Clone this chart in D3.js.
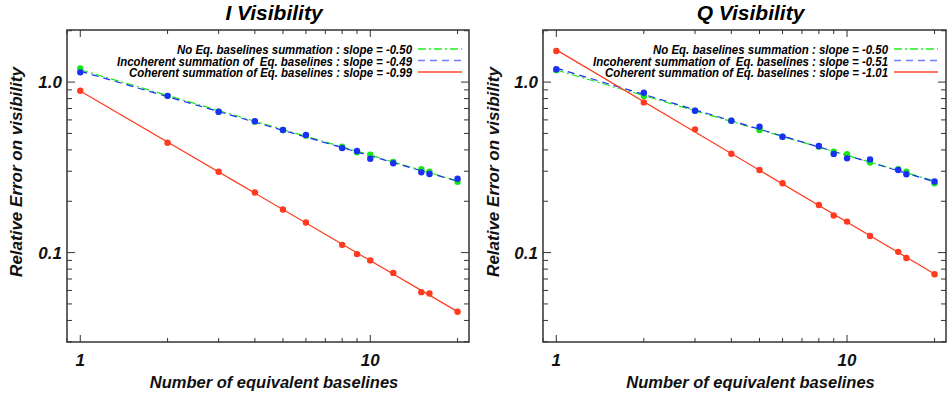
<!DOCTYPE html>
<html><head><meta charset="utf-8">
<script src="https://cdn.jsdelivr.net/npm/d3@7"></script>
<style>
html,body{margin:0;padding:0;background:#fff;}
text{font-family:"Liberation Sans",Arial,sans-serif;}
</style></head>
<body>
<svg id="chart" width="947" height="398"></svg>
<script>
// ---- data ----
const baselines = [1, 2, 3, 4, 5, 6, 8, 9, 10, 12, 15, 16, 20];

const iNoEq      = [1.20, 0.83, 0.67, 0.586, 0.523, 0.485, 0.418, 0.387, 0.375, 0.340, 0.308, 0.298, 0.260];
const iIncoherent= [1.14, 0.83, 0.67, 0.590, 0.523, 0.490, 0.410, 0.394, 0.355, 0.334, 0.296, 0.289, 0.271];
const iCoherent  = [0.889, 0.441, 0.298, 0.225, 0.179, 0.150, 0.111, 0.098, 0.090, 0.076, 0.0586, 0.0575, 0.045];

const qNoEq      = [1.175, 0.828, 0.679, 0.593, 0.523, 0.478, 0.418, 0.391, 0.377, 0.337, 0.308, 0.298, 0.255];
const qIncoherent= [1.19, 0.865, 0.679, 0.593, 0.547, 0.478, 0.422, 0.379, 0.357, 0.352, 0.305, 0.288, 0.261];
const qCoherent  = [1.52, 0.76, 0.528, 0.380, 0.305, 0.255, 0.190, 0.165, 0.152, 0.125, 0.101, 0.093, 0.0747];

const panelTitles = ["I Visibility", "Q Visibility"];
const seriesNames = ["No Eq. baselines summation", "Incoherent summation of  Eq. baselines", "Coherent summation of Eq. baselines"];
const iSlopeLabels = ["-0.50", "-0.49", "-0.99"];
const qSlopeLabels = ["-0.50", "-0.51", "-1.01"];
const yTickLabels = ["1.0", "0.1"];
const yTickValues = [1.0, 0.1];
const xTickLabels = ["1", "10"];
const xTickValues = [1, 10];
const xTitle = "Number of equivalent baselines";
const yTitle = "Relative Error on visibility";

// ---- styles ----
const colors = ["#16e616", "#1a30f5", "#ff3a1e"];
const legendColors = ["#22ee22", "#6a80ff", "#ff4a30"];
const dashes = ["8,3,2,3", "7,5", null];

const svg = d3.select("#chart");
const xDomain = [0.9, 21.9];
const yDomain = [0.0299, 2.02];

const panels = [
  {left: 67, right: 469, title: panelTitles[0], series: [iNoEq, iIncoherent, iCoherent], slopes: iSlopeLabels, ylabX: 22},
  {left: 543, right: 946, title: panelTitles[1], series: [qNoEq, qIncoherent, qCoherent], slopes: qSlopeLabels, ylabX: 499}
];
const plotTop = 30, plotBottom = 342;

function fit(xs, ys) {
  const lx = xs.map(Math.log10), ly = ys.map(Math.log10);
  const mx = d3.mean(lx), my = d3.mean(ly);
  let sxy = 0, sxx = 0;
  lx.forEach((v, i) => { sxy += (v - mx) * (ly[i] - my); sxx += (v - mx) * (v - mx); });
  const b = sxy / sxx, a = my - b * mx;
  return xv => Math.pow(10, a + b * Math.log10(xv));
}

panels.forEach(p => {
  const x = d3.scaleLog().domain(xDomain).range([p.left, p.right]);
  const y = d3.scaleLog().domain(yDomain).range([plotBottom, plotTop]);
  const g = svg.append("g");

  // title
  g.append("text").attr("x", (p.left + p.right) / 2 + 6).attr("y", 20)
    .attr("text-anchor", "middle").attr("font-size", 21).attr("font-weight", "bold")
    .attr("font-style", "italic").attr("fill", "#000").text(p.title);

  // ticks
  const xt = x.ticks().filter(v => v >= xDomain[0] && v <= xDomain[1]);
  const yt = y.ticks().filter(v => v >= yDomain[0] && v <= yDomain[1]);
  const isMajor = v => Math.abs(Math.log10(v) - Math.round(Math.log10(v))) < 1e-6;
  const tk = g.append("g").attr("stroke", "#333").attr("stroke-width", 1);
  xt.forEach(v => {
    const L = isMajor(v) ? 7 : 4;
    tk.append("line").attr("x1", x(v)).attr("x2", x(v)).attr("y1", plotBottom).attr("y2", plotBottom - L);
    tk.append("line").attr("x1", x(v)).attr("x2", x(v)).attr("y1", plotTop).attr("y2", plotTop + L);
  });
  yt.forEach(v => {
    const L = isMajor(v) ? 8 : 5;
    tk.append("line").attr("y1", y(v)).attr("y2", y(v)).attr("x1", p.left).attr("x2", p.left + L);
    tk.append("line").attr("y1", y(v)).attr("y2", y(v)).attr("x1", p.right).attr("x2", p.right - L);
  });

  // frame
  g.append("rect").attr("x", p.left).attr("y", plotTop).attr("width", p.right - p.left)
    .attr("height", plotBottom - plotTop).attr("fill", "none").attr("stroke", "#333").attr("stroke-width", 1.5);

  // tick labels
  yTickValues.forEach((v, i) => {
    g.append("text").attr("x", p.left - 5).attr("y", y(v) + 6).attr("text-anchor", "end")
      .attr("font-size", 17).attr("font-weight", "bold").attr("font-style", "italic")
      .attr("fill", "#111").text(yTickLabels[i]);
  });
  xTickValues.forEach((v, i) => {
    g.append("text").attr("x", x(v)).attr("y", 366).attr("text-anchor", "middle")
      .attr("font-size", 17).attr("font-weight", "bold").attr("font-style", "italic")
      .attr("fill", "#111").text(xTickLabels[i]);
  });

  // axis titles
  g.append("text").attr("x", (p.left + p.right) / 2 + 6).attr("y", 388).attr("text-anchor", "middle")
    .attr("font-size", 16.5).attr("font-weight", "bold").attr("font-style", "italic")
    .attr("fill", "#111").text(xTitle);
  g.append("text").attr("transform", `translate(${p.ylabX},172) rotate(-90)`).attr("text-anchor", "middle")
    .attr("font-size", 17).attr("font-weight", "bold").attr("font-style", "italic")
    .attr("fill", "#111").text(yTitle);

  // fit lines
  const xr = [baselines[0], baselines[baselines.length - 1]];
  p.series.forEach((s, k) => {
    const f = fit(baselines, s);
    const ln = g.append("line").attr("x1", x(xr[0])).attr("y1", y(f(xr[0])))
      .attr("x2", x(xr[1])).attr("y2", y(f(xr[1])))
      .attr("stroke", colors[k]).attr("stroke-width", 1.2);
    if (dashes[k]) ln.attr("stroke-dasharray", dashes[k]);
  });
  // points
  p.series.forEach((s, k) => {
    g.append("g").selectAll("circle").data(s).join("circle")
      .attr("cx", (d, i) => x(baselines[i])).attr("cy", d => y(d)).attr("r", 3.2)
      .attr("fill", colors[k]);
  });

  // legend
  const widths = [235, 295, 283];
  const rowsY = [54, 65.5, 77];
  seriesNames.forEach((nm, k) => {
    g.append("text").attr("x", p.left + 345).attr("y", rowsY[k]).attr("text-anchor", "end")
      .attr("font-size", 12.5).attr("font-style", "italic").attr("font-weight", "bold")
      .attr("fill", "#000").attr("xml:space", "preserve")
      .attr("textLength", widths[k]).attr("lengthAdjust", "spacingAndGlyphs")
      .text(nm + " : slope = " + p.slopes[k]);
    const ll = g.append("line").attr("x1", p.left + 351).attr("x2", p.left + 395)
      .attr("y1", rowsY[k] - 5).attr("y2", rowsY[k] - 5)
      .attr("stroke", legendColors[k]).attr("stroke-width", 1.3);
    if (dashes[k]) ll.attr("stroke-dasharray", dashes[k]);
  });
});
</script>
</body></html>
